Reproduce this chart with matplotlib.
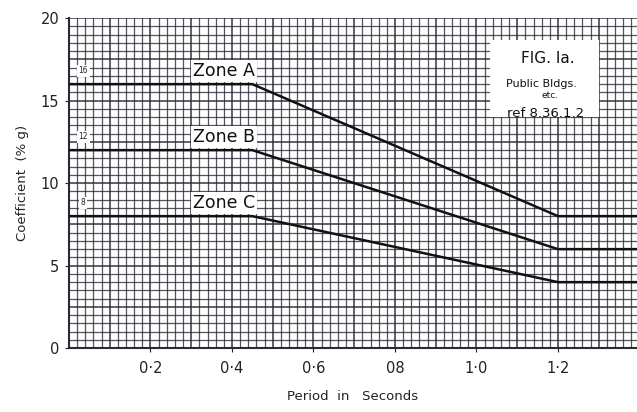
import numpy as np
import matplotlib
matplotlib.use("Agg")
import matplotlib.pyplot as plt
from matplotlib.patches import Rectangle

# Data
period = [0.0, 0.45, 1.2, 1.4]
zone_a = [16, 16, 8, 8]
zone_b = [12, 12, 6, 6]
zone_c = [8, 8, 4, 4]
zone_names = ["Zone A", "Zone B", "Zone C"]
start_values = ["16", "12", "8"]
x_ticks = [0.2, 0.4, 0.6, 0.8, 1.0, 1.2]
x_tick_labels = ["0·2", "0·4", "0·6", "08", "1·0", "1·2"]
y_ticks = [0, 5, 10, 15, 20]

fig = plt.figure(figsize=(6.37, 4.12), dpi=100)
ax = fig.add_axes([0.1083, 0.155, 0.8917, 0.801])
ax.set_xlim(0, 1.394)
ax.set_ylim(0, 20)

# graph paper grid
grid_col = "#2b2838"
for xv in np.arange(0, 1.40, 0.02):
    lw = 1.3 if abs(round(xv / 0.1) * 0.1 - xv) < 1e-6 else 0.9
    ax.axvline(xv, color=grid_col, lw=lw, alpha=0.8, zorder=1)
for yv in np.arange(0, 20.01, 0.5):
    lw = 1.3 if abs(round(yv / 2.5) * 2.5 - yv) < 1e-6 else 0.9
    ax.axhline(yv, color=grid_col, lw=lw, alpha=0.8, zorder=1)

for ys in (zone_a, zone_b, zone_c):
    ax.plot(period, ys, color="#111111", lw=1.8, zorder=3, solid_capstyle="butt")

box = dict(boxstyle="square,pad=0.12", fc="white", ec="none")
for name, ys in zip(zone_names, (zone_a, zone_b, zone_c)):
    ax.text(0.305, ys[0] + 0.8, name, fontsize=12.5, ha="left", va="center",
            color="#111111", bbox=box, zorder=4)

for lab, ys in zip(start_values, (zone_a, zone_b, zone_c)):
    ax.text(0.035, ys[0] + 0.8, lab, fontsize=5.5, ha="center", va="center",
            color="#222222", bbox=dict(boxstyle="square,pad=0.2", fc="white", ec="none"),
            zorder=4)

# figure label box
ax.add_patch(Rectangle((1.033, 14.0), 0.267, 4.67, fc="white", ec="none", zorder=4))
ax.text(1.175, 17.55, "FIG. Ia.", fontsize=11, ha="center", va="center", color="#111111", zorder=5)
ax.text(1.16, 16.0, "Public Bldgs.", fontsize=8, ha="center", va="center", color="#111111", zorder=5)
ax.text(1.18, 15.3, "etc.", fontsize=6.5, ha="center", va="center", color="#111111", zorder=5)
ax.text(1.17, 14.25, "ref 8.36.1.2", fontsize=9.5, ha="center", va="center", color="#111111", zorder=5)

ax.set_xticks(x_ticks)
ax.set_xticklabels(x_tick_labels, fontsize=10.5)
ax.set_yticks(y_ticks)
ax.set_yticklabels([str(v) for v in y_ticks], fontsize=10.5)
ax.tick_params(axis="x", direction="out", length=3, pad=6, colors="#222222")
ax.tick_params(axis="y", direction="out", length=3, pad=4, colors="#222222")
for s in ["top", "right"]:
    ax.spines[s].set_visible(False)
for s in ["left", "bottom"]:
    ax.spines[s].set_color(grid_col)
    ax.spines[s].set_linewidth(1.5)

ax.set_xlabel("Period  in   Seconds", fontsize=9.5, labelpad=10, color="#222222")
ax.set_ylabel("Coefficient  (% g)", fontsize=9.5, labelpad=8, color="#222222")

fig.savefig("out.png", dpi=100)
